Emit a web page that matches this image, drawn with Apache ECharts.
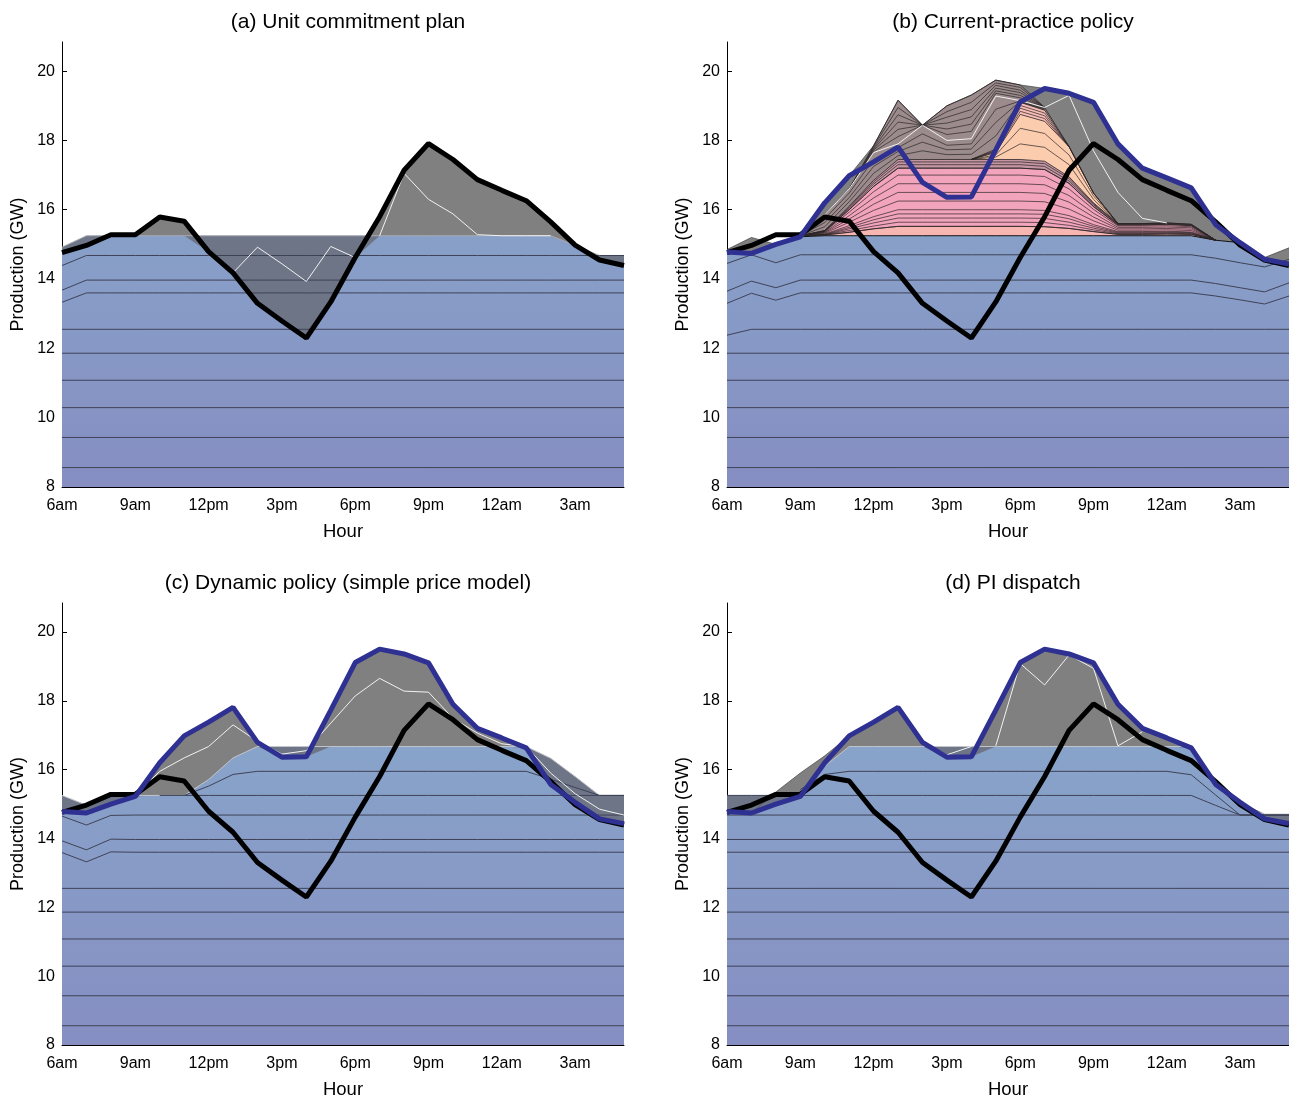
<!DOCTYPE html>
<html>
<head>
<meta charset="utf-8">
<script src="https://cdn.jsdelivr.net/npm/echarts@6/dist/echarts.min.js"></script>
<style>
  html, body { margin: 0; padding: 0; background: #ffffff; }
  #chart { width: 1289px; height: 1100px; }
</style>
</head>
<body>
<div id="chart"></div>
<script>
// ---- axes ----
const hours = [0, 1, 2, 3, 4, 5, 6, 7, 8, 9, 10, 11, 12, 13, 14, 15, 16, 17, 18, 19, 20, 21, 22, 23];
const tickHours = [0, 3, 6, 9, 12, 15, 18, 21];
const tickLabels = ['6am', '9am', '12pm', '3pm', '6pm', '9pm', '12am', '3am'];
const yTicks = [8, 10, 12, 14, 16, 18, 20];
const titles = ['(a) Unit commitment plan', '(b) Current-practice policy',
                '(c) Dynamic policy (simple price model)', '(d) PI dispatch'];

// ---- shared curves (GW) ----
const demand = [14.76, 14.97, 15.28, 15.28, 15.79, 15.67, 14.79, 14.18, 13.30, 12.79, 12.30, 13.34,
                14.62, 15.80, 17.14, 17.91, 17.45, 16.87, 16.56, 16.26, 15.65, 14.98, 14.55, 14.39];
const production = [14.78, 14.74, 15.00, 15.22, 16.20, 16.98, 17.38, 17.81, 16.79, 16.36, 16.37, 17.73,
                    19.11, 19.50, 19.36, 19.10, 17.90, 17.20, 16.92, 16.63, 15.57, 15.05, 14.57, 14.43];
// baseload unit boundaries that stay flat all day
const flatLevels = [8.56, 9.43, 10.29, 11.08, 11.86, 12.55];

// ---- (a) unit commitment plan ----
const capA = [14.92, 15.25, 15.25, 15.25, 15.25, 15.25, 15.25, 15.25, 15.25, 15.25, 15.25, 15.25,
              15.25, 15.25, 15.25, 15.25, 15.25, 15.25, 15.25, 15.25, 15.25, 14.97, 14.68, 14.68];
const blueTopA = [14.76, 14.97, 15.25, 15.25, 15.25, 15.25, 14.79, 14.18, 13.30, 12.79, 12.30, 13.34,
                  14.62, 15.25, 15.25, 15.25, 15.25, 15.25, 15.25, 15.25, 15.25, 14.97, 14.55, 14.39];
const unitA1468 = [14.39, 14.68, 14.68, 14.68, 14.68, 14.68, 14.68, 14.68, 14.68, 14.68, 14.68, 14.68,
                   14.68, 14.68, 14.68, 14.68, 14.68, 14.68, 14.68, 14.68, 14.68, 14.68, 14.68, 14.68];
const unitA1397 = [13.68, 13.97, 13.97, 13.97, 13.97, 13.97, 13.97, 13.97, 13.97, 13.97, 13.97, 13.97,
                   13.97, 13.97, 13.97, 13.97, 13.97, 13.97, 13.97, 13.97, 13.97, 13.97, 13.97, 13.97];
const unitA1360 = [13.33, 13.60, 13.60, 13.60, 13.60, 13.60, 13.60, 13.60, 13.60, 13.60, 13.60, 13.60,
                   13.60, 13.60, 13.60, 13.60, 13.60, 13.60, 13.60, 13.60, 13.60, 13.60, 13.60, 13.60];
const whiteA1 = { from: 13, v: [15.25, 17.05, 16.30, 15.88, 15.28, 15.25, 15.25, 15.25] };
const whiteA2 = { from: 7, v: [14.18, 14.92, 14.44, 13.93, 14.94, 14.62] };

// ---- (b) current-practice policy ----
const grayTopB = [14.85, 15.20, 15.00, 15.25, 16.20, 16.98, 17.85, 19.16, 18.44, 19.00, 19.31, 19.74,
                  19.60, 19.50, 19.36, 19.10, 17.90, 17.20, 16.92, 16.63, 15.57, 15.05, 14.62, 14.90];
const mauveTopB = { from: 3, v: [15.25, 15.85, 16.60, 17.85, 19.16, 18.44, 19.00, 19.31, 19.74, 19.60,
                                 18.95, 17.82, 16.48, 15.60, 15.60, 15.62, 15.58, 15.12] };
const salmonTopB = { from: 10, v: [17.45, 17.75, 19.10, 18.87, 17.82, 16.48, 15.60] };
const peachTopB = { from: 10, v: [17.45, 17.65, 18.75, 18.55, 17.82, 16.48, 15.60] };
const pinkTopB = { from: 3, v: [15.25, 15.40, 16.10, 16.85, 17.45, 17.45, 17.45, 17.45, 17.45, 17.45,
                                17.40, 16.95, 16.20, 15.60, 15.60, 15.62, 15.58, 15.12] };
const blueTopB = [14.78, 14.74, 15.00, 15.22, 15.25, 15.25, 15.25, 15.25, 15.25, 15.25, 15.25, 15.25,
                  15.25, 15.25, 15.25, 15.25, 15.25, 15.25, 15.25, 15.25, 15.12, 15.05, 14.57, 14.43];
const unitB1468 = [14.45, 14.70, 14.47, 14.70, 14.70, 14.70, 14.70, 14.70, 14.70, 14.70, 14.70, 14.70,
                   14.70, 14.70, 14.70, 14.70, 14.70, 14.70, 14.70, 14.70, 14.60, 14.47, 14.35, 14.57];
const unitB1397 = [13.65, 13.94, 13.75, 13.97, 13.97, 13.97, 13.97, 13.97, 13.97, 13.97, 13.97, 13.97,
                   13.97, 13.97, 13.97, 13.97, 13.97, 13.97, 13.97, 13.97, 13.87, 13.75, 13.63, 13.89];
const unitB1360 = [13.30, 13.59, 13.39, 13.60, 13.60, 13.60, 13.60, 13.60, 13.60, 13.60, 13.60, 13.60,
                   13.60, 13.60, 13.60, 13.60, 13.60, 13.60, 13.60, 13.60, 13.51, 13.40, 13.28, 13.51];
const unitB1255 = [12.38, 12.55, 12.55, 12.55, 12.55, 12.55, 12.55, 12.55, 12.55, 12.55, 12.55, 12.55,
                   12.55, 12.55, 12.55, 12.55, 12.55, 12.55, 12.55, 12.55, 12.55, 12.55, 12.55, 12.55];
const flatLevelsB = [8.56, 9.43, 10.29, 11.08, 11.86];
// mid-merit units (pink), hours 9am .. 2am
const pinkUnitsB = [
  [15.25, 15.27, 15.35, 15.45, 15.52, 15.52, 15.52, 15.52, 15.52, 15.52, 15.51, 15.46, 15.37, 15.29, 15.29, 15.30, 15.29, 15.12],
  [15.25, 15.28, 15.40, 15.53, 15.64, 15.64, 15.64, 15.64, 15.64, 15.64, 15.63, 15.55, 15.42, 15.31, 15.31, 15.32, 15.31, 15.12],
  [15.25, 15.28, 15.45, 15.62, 15.76, 15.76, 15.76, 15.76, 15.76, 15.76, 15.75, 15.64, 15.47, 15.33, 15.33, 15.34, 15.33, 15.12],
  [15.25, 15.29, 15.49, 15.71, 15.88, 15.88, 15.88, 15.88, 15.88, 15.88, 15.87, 15.74, 15.52, 15.35, 15.35, 15.36, 15.34, 15.12],
  [15.25, 15.30, 15.54, 15.80, 16.00, 16.00, 16.00, 16.00, 16.00, 16.00, 15.98, 15.83, 15.57, 15.37, 15.37, 15.38, 15.36, 15.12],
  [15.25, 15.32, 15.64, 15.98, 16.25, 16.25, 16.25, 16.25, 16.25, 16.25, 16.23, 16.02, 15.68, 15.41, 15.41, 15.42, 15.40, 15.12],
  [15.25, 15.34, 15.73, 16.16, 16.50, 16.50, 16.50, 16.50, 16.50, 16.50, 16.47, 16.22, 15.79, 15.45, 15.45, 15.46, 15.44, 15.12],
  [15.25, 15.35, 15.83, 16.34, 16.75, 16.75, 16.75, 16.75, 16.75, 16.75, 16.72, 16.41, 15.90, 15.49, 15.49, 15.50, 15.48, 15.12],
  [15.25, 15.37, 15.93, 16.52, 17.00, 17.00, 17.00, 17.00, 17.00, 17.00, 16.96, 16.60, 16.01, 15.53, 15.53, 15.54, 15.51, 15.12],
  [15.25, 15.38, 16.00, 16.67, 17.20, 17.20, 17.20, 17.20, 17.20, 17.20, 17.16, 16.76, 16.09, 15.56, 15.56, 15.58, 15.54, 15.12],
  [15.25, 15.39, 16.04, 16.74, 17.30, 17.30, 17.30, 17.30, 17.30, 17.30, 17.25, 16.83, 16.14, 15.58, 15.58, 15.59, 15.56, 15.12],
  [15.25, 15.40, 16.07, 16.80, 17.38, 17.38, 17.38, 17.38, 17.38, 17.38, 17.33, 16.90, 16.17, 15.59, 15.59, 15.61, 15.57, 15.12]
];
const pinkUnitsFromB = 3;
// peaking units (mauve), lower and upper groups
const mauveLowB = [
  [15.25, 15.51, 16.23, 17.05, 17.56, 17.70, 17.59, 17.60, 18.13, 19.11, 18.89],
  [15.25, 15.63, 16.35, 17.25, 17.68, 17.95, 17.73, 17.75, 18.52, 19.13, 18.91],
  [15.25, 15.74, 16.48, 17.45, 17.79, 18.19, 17.86, 17.90, 18.90, 19.14, 18.93]
];
const mauveLowFromB = 3;
const mauveUpB = [
  [16.60, 17.68, 18.11, 18.44, 18.17, 18.26, 19.36, 19.23, 18.95],
  [16.60, 17.72, 18.32, 18.44, 18.33, 18.47, 19.43, 19.30, 18.95],
  [16.60, 17.75, 18.53, 18.44, 18.50, 18.68, 19.51, 19.38, 18.95],
  [16.60, 17.78, 18.74, 18.44, 18.67, 18.89, 19.59, 19.45, 18.95],
  [16.60, 17.82, 18.95, 18.44, 18.83, 19.10, 19.66, 19.53, 18.95]
];
const mauveUpFromB = 5;
const peachUnitsB = [
  [17.45, 17.52, 17.90, 17.80, 17.30, 16.30, 15.60],
  [17.45, 17.58, 18.35, 18.20, 17.58, 16.40, 15.60]
];
const peachFromB = 10;
const salmonUnitsB = [
  [17.45, 17.68, 18.84, 18.63, 17.82],
  [17.45, 17.70, 18.93, 18.71, 17.82],
  [17.45, 17.72, 19.01, 18.79, 17.82]
];
const salmonFromB = 10;
const whiteB = { from: 3, v: [15.25, 15.85, 16.60, 17.65, 17.90, 18.44, 18.00, 18.05, 19.28, 19.15,
                              18.95, 19.30, 17.70, 16.50, 15.75, 15.62] };

// ---- (c) dynamic policy ----
const capC = [15.25, 14.97, 15.25, 15.25, 15.25, 15.25, 15.71, 16.34, 16.67, 16.67, 16.67, 16.67,
              16.67, 16.67, 16.67, 16.67, 16.67, 16.67, 16.67, 16.67, 16.33, 15.80, 15.25, 15.25];
const blueTopC = [14.78, 14.74, 15.00, 15.22, 15.25, 15.25, 15.71, 16.34, 16.67, 16.36, 16.37, 16.67,
                  16.67, 16.67, 16.67, 16.67, 16.67, 16.67, 16.67, 16.63, 15.57, 15.05, 14.57, 14.43];
const unitC1595 = { from: 5, v: [15.25, 15.52, 15.86, 15.95, 15.95, 15.95, 15.95, 15.95, 15.95, 15.95,
                                 15.95, 15.95, 15.95, 15.95, 15.95, 15.72, 15.48, 15.25, 15.25] };
const unitC1525 = { from: 4, v: [15.25, 15.25, 15.25, 15.25, 15.25, 15.25, 15.25, 15.25, 15.25, 15.25,
                                 15.25, 15.25, 15.25, 15.25, 15.25, 15.25, 15.25, 15.25, 15.25, 15.25] };
const unitC1468 = [14.65, 14.39, 14.67, 14.68, 14.68, 14.68, 14.68, 14.68, 14.68, 14.68, 14.68, 14.68,
                   14.68, 14.68, 14.68, 14.68, 14.68, 14.68, 14.68, 14.68, 14.68, 14.68, 14.68, 14.68];
const unitC1397 = [13.93, 13.67, 13.98, 13.97, 13.97, 13.97, 13.97, 13.97, 13.97, 13.97, 13.97, 13.97,
                   13.97, 13.97, 13.97, 13.97, 13.97, 13.97, 13.97, 13.97, 13.97, 13.97, 13.97, 13.97];
const unitC1360 = [13.59, 13.32, 13.61, 13.60, 13.60, 13.60, 13.60, 13.60, 13.60, 13.60, 13.60, 13.60,
                   13.60, 13.60, 13.60, 13.60, 13.60, 13.60, 13.60, 13.60, 13.60, 13.60, 13.60, 13.60];
const whiteC1 = { from: 3, v: [15.25, 15.95, 16.34, 16.67, 17.30, 16.82, 16.45, 16.55, 17.35, 18.14,
                               18.65, 18.28, 18.25, 17.49, 17.06, 16.75, 16.67] };
const whiteC2 = { from: 19, v: [16.67, 15.90, 15.30, 14.85, 14.68] };

// ---- (d) PI dispatch ----
const capD = [15.25, 15.25, 15.25, 15.25, 16.10, 16.67, 16.67, 16.67, 16.67, 16.67, 16.67, 16.67,
              16.67, 16.67, 16.67, 16.67, 16.67, 16.67, 16.67, 16.67, 15.60, 14.95, 14.70, 14.70];
const grayTopD = [14.78, 14.74, 15.35, 15.90, 16.40, 16.98, 17.38, 17.81, 16.79, 16.36, 16.37, 17.73,
                  19.11, 19.50, 19.36, 19.10, 17.90, 17.20, 16.92, 16.63, 15.60, 15.05, 14.70, 14.70];
const blueTopD = [14.78, 14.74, 15.00, 15.22, 16.10, 16.67, 16.67, 16.67, 16.67, 16.36, 16.37, 16.67,
                  16.67, 16.67, 16.67, 16.67, 16.67, 16.67, 16.67, 16.63, 15.57, 14.95, 14.57, 14.43];
const unitD1595 = { from: 3, v: [15.42, 15.86, 15.95, 15.95, 15.95, 15.95, 15.95, 15.95, 15.95, 15.95,
                                 15.95, 15.95, 15.95, 15.95, 15.95, 15.95, 15.85, 15.26, 14.68, 14.68, 14.68] };
const unitD1525 = [15.25, 15.25, 15.25, 15.25, 15.25, 15.25, 15.25, 15.25, 15.25, 15.25, 15.25, 15.25,
                   15.25, 15.25, 15.25, 15.25, 15.25, 15.25, 15.25, 15.25, 14.96, 14.68, 14.68, 14.68];
const flatLevelsD = [8.56, 9.43, 10.29, 11.08, 11.86, 12.55, 13.60, 13.97, 14.68];
const whiteD1 = { from: 8, v: [16.82, 16.43, 16.67] };
const whiteD2 = { from: 11, v: [16.69, 19.08, 18.46, 19.33, 18.94, 16.69, 17.10] };

// ---- styling ----
const FONT = '"Liberation Sans", Arial, Helvetica, sans-serif';
const GRID_W = 562, GRID_H = 445;
const gridPos = [
  { left: 62, top: 42 }, { left: 727, top: 42 },
  { left: 62, top: 603 }, { left: 727, top: 603 }
];
const C = {
  gray: '#808080', slate: '#6e7587', mauve: '#9b8b8c', salmonUp: '#f6bcb6',
  peach: '#fcccae', pinkDark: '#c495a2', pink: '#f3a4bd', salmon: '#f8b6b3',
  unitLine: '#3f4257', stackLine: '#2b2527', white: '#f2f2f2',
  demand: '#000000', production: '#2e3192'
};
const LINE_W = 5;

function full(arr) { return arr.map((v, i) => [hours[i], v == null ? '-' : v]); }
function part(p) { return p.v.map((v, i) => [hours[p.from + i], v]); }
function partArr(from, arr) { return arr.map((v, i) => [hours[from + i], v]); }
function flat(level) { return [[hours[0], level], [hours[hours.length - 1], level]]; }

function blueFill(g) {
  const t = gridPos[g].top;
  return { type: 'linear', x: 0, y: t, x2: 0, y2: t + GRID_H, global: true,
           colorStops: [{ offset: 0, color: '#89aecd' }, { offset: 1, color: '#868ec2' }] };
}

const series = [];
function area(g, data, fill, edge, edgeW) {
  series.push({
    type: 'line', xAxisIndex: g, yAxisIndex: g, data, symbol: 'none', silent: true,
    connectNulls: false, animation: false,
    lineStyle: edge ? { color: edge, width: edgeW } : { width: 0, opacity: 0 },
    areaStyle: { color: fill, opacity: 1, origin: 'start' }
  });
}
function line(g, data, color, width) {
  series.push({
    type: 'line', xAxisIndex: g, yAxisIndex: g, data, symbol: 'none', silent: true,
    connectNulls: false, animation: false, lineStyle: { color, width }
  });
}

// (a)
area(0, full(demand), C.gray);
area(0, full(capA), C.slate, '#a9abb2', 1);
area(0, full(blueTopA), blueFill(0));
flatLevels.forEach(l => line(0, flat(l), C.unitLine, 1));
[unitA1360, unitA1397, unitA1468].forEach(a => line(0, full(a), C.unitLine, 1));
line(0, part(whiteA1), C.white, 1);
line(0, part(whiteA2), C.white, 1);
line(0, full(demand), C.demand, LINE_W);

// (b)
area(1, full(grayTopB), C.gray, '#4d4d4d', 0.8);
area(1, part(mauveTopB), C.mauve, C.stackLine, 0.8);
area(1, part(salmonTopB), C.salmonUp, C.stackLine, 0.8);
area(1, part(peachTopB), C.peach, C.stackLine, 0.8);
area(1, part(pinkTopB), C.pinkDark, C.stackLine, 0.8);
area(1, partArr(pinkUnitsFromB, pinkUnitsB[9]), C.pink, C.stackLine, 0.8);
area(1, partArr(pinkUnitsFromB, pinkUnitsB[0]), C.salmon, C.stackLine, 0.8);
area(1, full(blueTopB), blueFill(1), '#111111', 1);
flatLevelsB.forEach(l => line(1, flat(l), C.unitLine, 1));
[unitB1255, unitB1360, unitB1397, unitB1468].forEach(a => line(1, full(a), C.unitLine, 1));
pinkUnitsB.forEach(a => line(1, partArr(pinkUnitsFromB, a), C.stackLine, 0.7));
peachUnitsB.forEach(a => line(1, partArr(peachFromB, a), C.stackLine, 0.7));
salmonUnitsB.forEach(a => line(1, partArr(salmonFromB, a), C.stackLine, 0.7));
mauveLowB.forEach(a => line(1, partArr(mauveLowFromB, a), C.stackLine, 0.7));
mauveUpB.forEach(a => line(1, partArr(mauveUpFromB, a), C.stackLine, 0.7));
line(1, part(whiteB), C.white, 1);
line(1, full(demand), C.demand, LINE_W);
line(1, full(production), C.production, LINE_W);

// (c)
area(2, full(production), C.gray);
area(2, full(capC), C.slate, '#c3c5cc', 1);
area(2, full(blueTopC), blueFill(2));
flatLevels.forEach(l => line(2, flat(l), C.unitLine, 1));
[unitC1360, unitC1397, unitC1468].forEach(a => line(2, full(a), C.unitLine, 1));
line(2, part(unitC1525), C.unitLine, 1);
line(2, part(unitC1595), C.unitLine, 1);
line(2, part(whiteC1), C.white, 1);
line(2, part(whiteC2), C.white, 1);
line(2, full(demand), C.demand, LINE_W);
line(2, full(production), C.production, LINE_W);

// (d)
area(3, full(grayTopD), C.gray, '#555555', 0.8);
area(3, full(capD), C.slate, '#c3c5cc', 1);
area(3, full(blueTopD), blueFill(3));
flatLevelsD.forEach(l => line(3, flat(l), C.unitLine, 1));
line(3, full(unitD1525), C.unitLine, 1);
line(3, part(unitD1595), C.unitLine, 1);
line(3, part(whiteD1), C.white, 1);
line(3, part(whiteD2), C.white, 1);
line(3, full(demand), C.demand, LINE_W);
line(3, full(production), C.production, LINE_W);

const option = {
  backgroundColor: '#ffffff',
  animation: false,
  title: titles.map((t, g) => ({
    text: t, left: gridPos[g].left + GRID_W / 2, top: gridPos[g].top - 35, textAlign: 'center',
    textStyle: { fontSize: 21, fontWeight: 'normal', color: '#000', fontFamily: FONT }
  })),
  grid: gridPos.map(p => ({ left: p.left, top: p.top, width: GRID_W, height: GRID_H, containLabel: false })),
  xAxis: gridPos.map((p, g) => ({
    gridIndex: g, type: 'value', min: 0, max: 23,
    name: 'Hour', nameLocation: 'middle', nameGap: 35,
    nameTextStyle: { fontSize: 18.5, color: '#000', fontFamily: FONT },
    axisLine: { show: true, onZero: false, lineStyle: { color: '#000', width: 1 } },
    axisTick: { show: true, inside: true, length: 5, customValues: tickHours, lineStyle: { color: '#000' } },
    axisLabel: { customValues: tickHours, formatter: v => tickLabels[tickHours.indexOf(v)] || '',
                 fontSize: 16, color: '#000', margin: 11, fontFamily: FONT },
    splitLine: { show: false }
  })),
  yAxis: gridPos.map((p, g) => ({
    gridIndex: g, type: 'value', min: 8, max: 20.84,
    name: 'Production (GW)', nameLocation: 'middle', nameGap: 35, nameRotate: 90,
    nameTextStyle: { fontSize: 18, color: '#000', fontFamily: FONT },
    axisLine: { show: true, lineStyle: { color: '#000', width: 1 } },
    axisTick: { show: true, inside: true, length: 5, customValues: yTicks, lineStyle: { color: '#000' } },
    axisLabel: { customValues: yTicks, fontSize: 16, color: '#000', margin: 7, fontFamily: FONT },
    splitLine: { show: false }
  })),
  series
};

const chart = echarts.init(document.getElementById('chart'), null, { renderer: 'canvas' });
chart.setOption(option);
</script>
</body>
</html>
